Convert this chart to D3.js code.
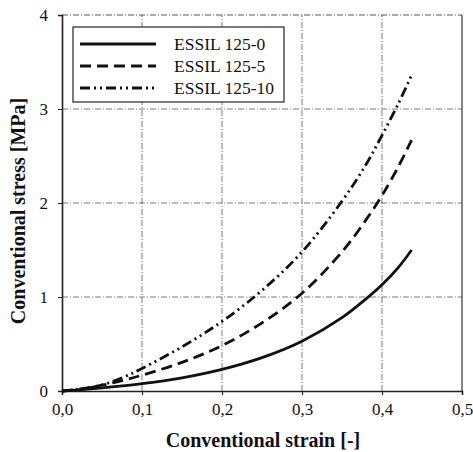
<!DOCTYPE html>
<html><head><meta charset="utf-8">
<script src="https://cdn.jsdelivr.net/npm/d3@7"></script>
<style>body{margin:0;background:#fff}svg{display:block}</style>
</head><body>
<script>
const strain = [0, 0.025, 0.05, 0.075, 0.1, 0.15, 0.2, 0.25, 0.3, 0.35, 0.38, 0.4, 0.42, 0.437];
const essil0  = [0, 0.015, 0.033, 0.054, 0.078, 0.14, 0.23, 0.355, 0.53, 0.78, 0.98, 1.13, 1.31, 1.50];
const essil5  = [0, 0.025, 0.062, 0.11, 0.168, 0.305, 0.483, 0.725, 1.04, 1.48, 1.82, 2.08, 2.38, 2.67];
const essil10 = [0, 0.022, 0.065, 0.14, 0.24, 0.47, 0.74, 1.07, 1.48, 2.02, 2.41, 2.72, 3.05, 3.36];
const seriesNames = ["ESSIL 125-0", "ESSIL 125-5", "ESSIL 125-10"];
const xTicks = [0, 0.1, 0.2, 0.3, 0.4, 0.5];
const xTickLabels = ["0,0", "0,1", "0,2", "0,3", "0,4", "0,5"];
const yTicks = [0, 1, 2, 3, 4];
const xTitle = "Conventional strain [-]";
const yTitle = "Conventional stress [MPa]";

const W = 473, H = 452;
const m = {l: 62, r: 11, t: 15, b: 61};
const svg = d3.select("body").append("svg").attr("width", W).attr("height", H);
const x = d3.scaleLinear().domain([0, 0.5]).range([m.l, W - m.r]);
const y = d3.scaleLinear().domain([0, 4]).range([H - m.b, m.t]);
const font = "'Liberation Serif', 'Times New Roman', serif";

// grid
const g = svg.append("g");
g.selectAll(".gx").data(xTicks.slice(1, -1)).join("line")
  .attr("x1", d => x(d)).attr("x2", d => x(d)).attr("y1", y(0)).attr("y2", y(4))
  .attr("stroke", "#444").attr("stroke-width", 0.7).attr("stroke-dasharray", "6,2,1,2");
g.selectAll(".gy").data(yTicks.slice(1, -1)).join("line")
  .attr("y1", d => y(d)).attr("y2", d => y(d)).attr("x1", x(0)).attr("x2", x(0.5))
  .attr("stroke", "#444").attr("stroke-width", 0.7).attr("stroke-dasharray", "6,2,1,2");
// frame top/right
svg.append("line").attr("x1", x(0)).attr("x2", x(0.5)).attr("y1", y(4)).attr("y2", y(4))
  .attr("stroke", "#444").attr("stroke-width", 0.9).attr("stroke-dasharray", "6,2,1,2");
svg.append("line").attr("x1", x(0.5)).attr("x2", x(0.5)).attr("y1", y(4)).attr("y2", y(0))
  .attr("stroke", "#333").attr("stroke-width", 1.2);

// axes
const xAxis = d3.axisBottom(x).tickValues(xTicks).tickFormat((d, i) => xTickLabels[i]).tickSize(4).tickPadding(8);
const gx = svg.append("g").attr("transform", `translate(0,${y(0)})`).call(xAxis);
const yAxis = d3.axisLeft(y).tickValues(yTicks).tickFormat(d3.format("d")).tickSize(4).tickPadding(10);
const gy = svg.append("g").attr("transform", `translate(${x(0)},0)`).call(yAxis);
[gx, gy].forEach(a => {
  a.select(".domain").attr("stroke", "#222").attr("stroke-width", 1.6);
  a.selectAll(".tick line").attr("stroke", "#222");
  a.selectAll("text").attr("font-family", font).attr("font-size", 17).attr("fill", "#111");
});

// titles
svg.append("text").attr("x", (x(0) + x(0.5)) / 2 + 1).attr("y", 447).attr("text-anchor", "middle")
  .attr("font-family", font).attr("font-weight", "bold").attr("font-size", 20).attr("fill", "#111").text(xTitle);
svg.append("text").attr("transform", `translate(25,${(y(0) + y(4)) / 2 + 8}) rotate(-90)`).attr("text-anchor", "middle")
  .attr("font-family", font).attr("font-weight", "bold").attr("font-size", 20).attr("fill", "#111").text(yTitle);

// lines
const dashes = [null, "11,6", "10,4,2,4,2,4"];
const data = [essil0, essil5, essil10];
const line = d3.line().x(d => x(d[0])).y(d => y(d[1])).curve(d3.curveCatmullRom.alpha(0.5));
data.forEach((s, i) => {
  svg.append("path").datum(strain.map((v, j) => [v, s[j]]))
    .attr("d", line).attr("fill", "none").attr("stroke", "#111").attr("stroke-width", 2.8)
    .attr("stroke-dasharray", dashes[i]);
});

// legend
const lg = svg.append("g");
lg.append("rect").attr("x", 73).attr("y", 27).attr("width", 211).attr("height", 75)
  .attr("fill", "#fff").attr("stroke", "#222").attr("stroke-width", 1.2);
seriesNames.forEach((n, i) => {
  const yy = 44 + i * 22;
  lg.append("line").attr("x1", 80).attr("x2", 156).attr("y1", yy).attr("y2", yy)
    .attr("stroke", "#111").attr("stroke-width", 2.8).attr("stroke-dasharray", dashes[i]);
  lg.append("text").attr("x", 174).attr("y", yy + 6).attr("font-family", font).attr("font-size", 17.5)
    .attr("fill", "#111").text(n);
});
</script>
</body></html>
